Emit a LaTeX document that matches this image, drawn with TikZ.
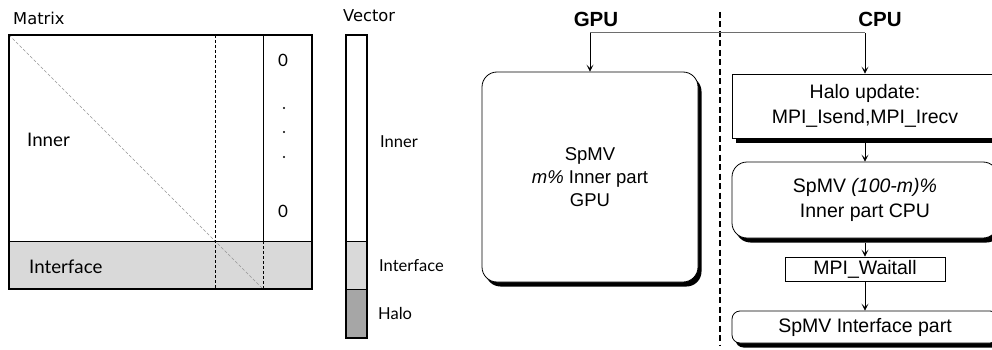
\documentclass[tikz,border=0pt]{standalone}
\usepackage{fontspec}
\setmainfont{Liberation Sans}
\newfontfamily\lato{Lato}
\newfontfamily\dejavu{DejaVu Sans}
\usetikzlibrary{arrows.meta,shadows}
\definecolor{ifgray}{RGB}{217,217,217}
\definecolor{halogray}{RGB}{166,166,166}
\definecolor{linegray}{RGB}{110,110,110}
\definecolor{diaggray}{RGB}{150,150,150}
\tikzset{
  tlbl/.style={anchor=base west,inner sep=0pt,font=\dejavu\fontsize{16.3}{20}\selectfont},
  mlbl/.style={anchor=base west,inner sep=0pt,font=\lato\fontsize{18.7}{22}\selectfont},
  vlbl/.style={anchor=base west,inner sep=0pt,font=\lato\fontsize{16.5}{20}\selectfont},
  zer/.style={anchor=base,inner sep=0pt,font=\lato\fontsize{17}{20}\selectfont},
  ttl/.style={anchor=base,inner sep=0pt,font=\bfseries\fontsize{20.5}{24}\selectfont},
  shbox/.style={draw=black,line width=0.8pt,fill=white,inner sep=0pt,align=center,
    drop shadow={shadow xshift=3.5pt,shadow yshift=-4.5pt,fill=black,opacity=1}},
  cpufont/.style={font=\fontsize{19.5}{24.5}\selectfont},
  arr/.style={-{Stealth[length=7pt,width=7pt,inset=3.5pt]},line width=0.7pt},
  mdash/.style={dashed,dash pattern=on 3pt off 2pt,line width=0.7pt},
}
\begin{document}
\begin{tikzpicture}[x=1pt,y=-1pt]
\useasboundingbox (0,0) rectangle (992,350);
% ---- Matrix ----
\node[tlbl] (mtitle) at (13,25) {Matrix};
\fill[ifgray] (9,241) rectangle (312,289);
\draw[mdash,diaggray] (9,35) -- (263,289);
\draw[mdash] (215,35) -- (215,289);
\draw[line width=1pt] (263,35) -- (263,241);
\draw[mdash] (263,241) -- (263,289);
\draw[line width=1pt] (9,241) -- (312,241);
\draw[line width=1.2pt] (9,35) rectangle (312,289);
\node[mlbl] (minner) at (27,146) {Inner};
\node[mlbl] (mif) at (29,273) {Interface};
\node[zer] (z1) at (283,67) {0};
\node[zer] (z2) at (283,217) {0};
\foreach \yy in {108,132,157} \fill (284,\yy) circle (1.1pt);
% ---- Vector ----
\node[tlbl] (vtitle) at (343,22) {Vector};
\fill[ifgray] (346,241) rectangle (367,289);
\fill[halogray] (346,289) rectangle (367,338);
\draw[line width=1pt] (346,241) -- (367,241) (346,289) -- (367,289);
\draw[line width=1.2pt] (346,35) rectangle (367,338);
\node[vlbl] (vinner) at (380,147) {Inner};
\node[vlbl] (vif) at (379,271) {Interface};
\node[vlbl] (vhalo) at (378,319) {Halo};
% ---- GPU / CPU ----
\draw[line width=1.6pt,dash pattern=on 6pt off 3.5pt] (720,12) -- (720,346);
\node[ttl] (gputitle) at (596,27) {GPU};
\node[ttl] (cputitle) at (880,27) {CPU};
\node[shbox,rounded corners=15pt,minimum width=216pt,minimum height=210pt,
  font=\fontsize{18.5}{23}\selectfont] (gpu) at (590,177)
  {SpMV\\\textit{m\%} Inner part\\GPU};
\node[shbox,cpufont,minimum width=266pt,minimum height=64pt] (halo) at (865,106)
  {Halo update:\\MPI\_Isend,MPI\_Irecv};
\node[shbox,cpufont,rounded corners=15pt,minimum width=266pt,minimum height=76pt] (spmv) at (865,200)
  {SpMV \textit{(100-m)\%}\\Inner part CPU};
\node[draw=black,line width=0.8pt,fill=white,inner sep=0pt,cpufont,minimum width=160pt,minimum height=24pt] (wait) at (865,269)
  {MPI\_Waitall};
\node[shbox,cpufont,rounded corners=8pt,minimum width=266pt,minimum height=32pt] (iface) at (865,327)
  {SpMV Interface part};
\coordinate (fork) at (720,33);
\draw[linegray,line width=1pt] (gpu.north |- fork) -- (halo.north |- fork);
\draw[arr] (gpu.north |- fork) -- (gpu.north);
\draw[arr] (halo.north |- fork) -- (halo.north);
\draw[arr] ([yshift=-4.5pt]halo.south) -- (spmv.north);
\draw[arr] ([yshift=-4.5pt]spmv.south) -- (wait.north);
\draw[arr] (wait.south) -- (iface.north);
\end{tikzpicture}
\end{document}
